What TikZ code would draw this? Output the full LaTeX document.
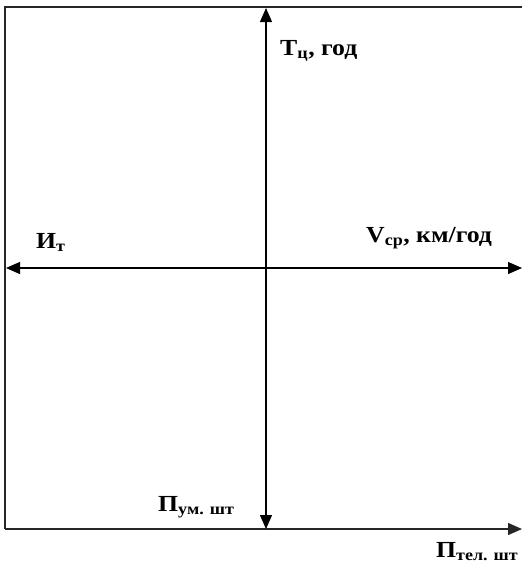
\documentclass[tikz,border=0pt]{standalone}
\usepackage{fontspec}
\setmainfont{Liberation Serif}
\usetikzlibrary{arrows.meta}

\begin{document}
\begin{tikzpicture}[x=1pt, y=-1pt,
  frame/.style={line width=1.6pt, black!85},
  axis/.style={line width=1.2pt, {Triangle[length=14pt,width=12pt]}-{Triangle[length=14pt,width=12pt]}},
  oneway/.style={line width=1.3pt, -{Triangle[length=14pt,width=12pt]}},
  lbl/.style={font=\bfseries\fontsize{23}{26}\selectfont\addfontfeature{FakeStretch=1.12}, anchor=base west, inner sep=0pt}]

\useasboundingbox (0,0) rectangle (522,566);

% Frame corners and axis ends
\coordinate (tl) at (5,7);
\coordinate (tr) at (522,7);
\coordinate (bl) at (5,529);
\coordinate (br) at (522,529);
\coordinate (top) at (266,8);
\coordinate (bot) at (266,529);
\coordinate (left) at (6,268);
\coordinate (right) at (522,268);

% Frame
\draw[frame] (tr) -- (tl) -- (bl);
\draw[frame, oneway] (bl) -- (br);

% Axes
\draw[axis] (top) -- (bot);
\draw[axis] (left) -- (right);

% Labels
\node[lbl] (tc) at (280,55) {Т\textsubscript{ц}, год};
\node[lbl] (it) at (36,248) {И\textsubscript{т}};
\node[lbl] (vcp) at (366,242) {V\textsubscript{ср}, км/год};
\node[lbl] (pum) at (158,511) {П\textsubscript{ум. шт}};
\node[lbl] (ptel) at (436,557) {П\textsubscript{тел. шт}};

\end{tikzpicture}
\end{document}
